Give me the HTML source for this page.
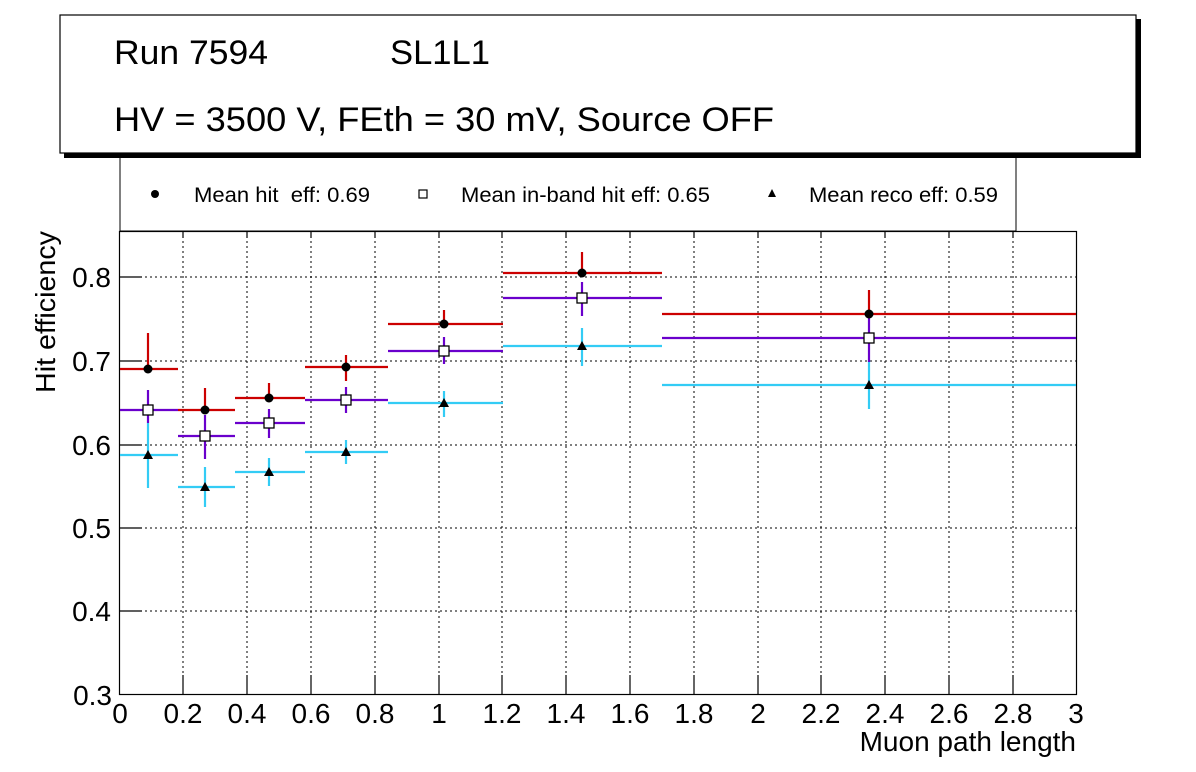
<!DOCTYPE html>
<html><head><meta charset="utf-8"><style>
html,body{margin:0;padding:0;background:#fff;}
svg{display:block;font-family:"Liberation Sans",sans-serif;}
</style></head><body>
<svg width="1196" height="772" viewBox="0 0 1196 772" xmlns="http://www.w3.org/2000/svg">
<rect width="1196" height="772" fill="#fff"/>
<rect x="120" y="150" width="896" height="81" fill="#fff" stroke="#000" stroke-width="1"/>
<rect x="64" y="19" width="1077" height="139" fill="#000"/>
<rect x="60" y="15" width="1076" height="138" fill="#fff" stroke="#000" stroke-width="1.2"/>
<text x="114" y="64" font-size="34" textLength="154" lengthAdjust="spacingAndGlyphs">Run 7594</text>
<text x="390" y="64" font-size="34" textLength="100" lengthAdjust="spacingAndGlyphs">SL1L1</text>
<text x="114" y="131" font-size="34" textLength="660" lengthAdjust="spacingAndGlyphs">HV = 3500 V, FEth = 30 mV, Source OFF</text>
<circle cx="155" cy="194" r="4" fill="#000"/>
<text x="194" y="202" font-size="21" textLength="176" lengthAdjust="spacingAndGlyphs" xml:space="preserve">Mean hit  eff: 0.69</text>
<rect x="419" y="190" width="8" height="8" fill="#fff" stroke="#000" stroke-width="1.2"/>
<text x="461" y="202" font-size="21" textLength="249" lengthAdjust="spacingAndGlyphs">Mean in-band hit eff: 0.65</text>
<polygon points="772,189 776,197 768,197" fill="#000"/>
<text x="809" y="202" font-size="21" textLength="189" lengthAdjust="spacingAndGlyphs">Mean reco eff: 0.59</text>
<g stroke="#000" stroke-width="1" stroke-dasharray="2,3">
<line x1="183" y1="231" x2="183" y2="694"/><line x1="247" y1="231" x2="247" y2="694"/>
<line x1="311" y1="231" x2="311" y2="694"/><line x1="375" y1="231" x2="375" y2="694"/>
<line x1="439" y1="231" x2="439" y2="694"/><line x1="502" y1="231" x2="502" y2="694"/>
<line x1="566" y1="231" x2="566" y2="694"/><line x1="630" y1="231" x2="630" y2="694"/>
<line x1="694" y1="231" x2="694" y2="694"/><line x1="758" y1="231" x2="758" y2="694"/>
<line x1="821" y1="231" x2="821" y2="694"/><line x1="885" y1="231" x2="885" y2="694"/>
<line x1="949" y1="231" x2="949" y2="694"/><line x1="1013" y1="231" x2="1013" y2="694"/>
<line x1="120" y1="611" x2="1076" y2="611"/><line x1="120" y1="528" x2="1076" y2="528"/>
<line x1="120" y1="445" x2="1076" y2="445"/><line x1="120" y1="361" x2="1076" y2="361"/>
<line x1="120" y1="277" x2="1076" y2="277"/>
</g>
<rect x="119.5" y="231.5" width="957" height="463" fill="none" stroke="#000" stroke-width="1.2"/>
<g stroke="#000" stroke-width="1.2">
<line x1="183" y1="694" x2="183" y2="675"/><line x1="247" y1="694" x2="247" y2="675"/>
<line x1="311" y1="694" x2="311" y2="675"/><line x1="375" y1="694" x2="375" y2="675"/>
<line x1="439" y1="694" x2="439" y2="675"/><line x1="502" y1="694" x2="502" y2="675"/>
<line x1="566" y1="694" x2="566" y2="675"/><line x1="630" y1="694" x2="630" y2="675"/>
<line x1="694" y1="694" x2="694" y2="675"/><line x1="758" y1="694" x2="758" y2="675"/>
<line x1="821" y1="694" x2="821" y2="675"/><line x1="885" y1="694" x2="885" y2="675"/>
<line x1="949" y1="694" x2="949" y2="675"/><line x1="1013" y1="694" x2="1013" y2="675"/>
<line x1="183" y1="231" x2="183" y2="238"/><line x1="247" y1="231" x2="247" y2="238"/>
<line x1="311" y1="231" x2="311" y2="238"/><line x1="375" y1="231" x2="375" y2="238"/>
<line x1="439" y1="231" x2="439" y2="238"/><line x1="502" y1="231" x2="502" y2="238"/>
<line x1="566" y1="231" x2="566" y2="238"/><line x1="630" y1="231" x2="630" y2="238"/>
<line x1="694" y1="231" x2="694" y2="238"/><line x1="758" y1="231" x2="758" y2="238"/>
<line x1="821" y1="231" x2="821" y2="238"/><line x1="885" y1="231" x2="885" y2="238"/>
<line x1="949" y1="231" x2="949" y2="238"/><line x1="1013" y1="231" x2="1013" y2="238"/>
<line x1="120" y1="611" x2="142" y2="611"/><line x1="120" y1="528" x2="142" y2="528"/>
<line x1="120" y1="445" x2="142" y2="445"/><line x1="120" y1="361" x2="142" y2="361"/>
<line x1="120" y1="277" x2="142" y2="277"/>
</g>
<g font-size="28" text-anchor="middle">
<text x="120" y="723">0</text><text x="183" y="723">0.2</text><text x="247" y="723">0.4</text>
<text x="311" y="723">0.6</text><text x="375" y="723">0.8</text><text x="439" y="723">1</text>
<text x="502" y="723">1.2</text><text x="566" y="723">1.4</text><text x="630" y="723">1.6</text>
<text x="694" y="723">1.8</text><text x="758" y="723">2</text><text x="821" y="723">2.2</text>
<text x="885" y="723">2.4</text><text x="949" y="723">2.6</text><text x="1013" y="723">2.8</text>
<text x="1076" y="723">3</text>
</g>
<g font-size="28" text-anchor="end">
<text x="112" y="705">0.3</text><text x="111" y="621">0.4</text><text x="111" y="538">0.5</text>
<text x="111" y="455">0.6</text><text x="111" y="371">0.7</text><text x="111" y="287">0.8</text>
</g>
<text x="1076" y="751" font-size="28" text-anchor="end">Muon path length</text>
<text transform="translate(55,393) rotate(-90)" font-size="28" textLength="162" lengthAdjust="spacingAndGlyphs">Hit efficiency</text>
<g stroke="#33ccf5" stroke-width="2.2">
<line x1="120" y1="455" x2="178" y2="455"/><line x1="148" y1="423" x2="148" y2="488"/>
<line x1="178" y1="487" x2="235" y2="487"/><line x1="205" y1="467" x2="205" y2="507"/>
<line x1="235" y1="472" x2="305" y2="472"/><line x1="269" y1="458" x2="269" y2="486"/>
<line x1="305" y1="452" x2="388" y2="452"/><line x1="346" y1="440" x2="346" y2="464"/>
<line x1="388" y1="403" x2="503" y2="403"/><line x1="444" y1="391" x2="444" y2="417"/>
<line x1="503" y1="346" x2="662" y2="346"/><line x1="582" y1="328" x2="582" y2="366"/>
<line x1="662" y1="385" x2="1076" y2="385"/><line x1="869" y1="360" x2="869" y2="409"/>
</g>
<g stroke="#6a00cc" stroke-width="2.2">
<line x1="120" y1="410" x2="178" y2="410"/><line x1="148" y1="390" x2="148" y2="423"/>
<line x1="178" y1="436" x2="235" y2="436"/><line x1="205" y1="415" x2="205" y2="459"/>
<line x1="235" y1="423" x2="305" y2="423"/><line x1="269" y1="409" x2="269" y2="438"/>
<line x1="305" y1="400" x2="388" y2="400"/><line x1="346" y1="387" x2="346" y2="413"/>
<line x1="388" y1="351" x2="503" y2="351"/><line x1="444" y1="337" x2="444" y2="364"/>
<line x1="503" y1="298" x2="662" y2="298"/><line x1="582" y1="282" x2="582" y2="316"/>
<line x1="662" y1="338" x2="1076" y2="338"/><line x1="869" y1="315" x2="869" y2="362"/>
</g>
<g stroke="#cc0000" stroke-width="2.2">
<line x1="120" y1="369" x2="178" y2="369"/><line x1="148" y1="333" x2="148" y2="372"/>
<line x1="178" y1="410" x2="235" y2="410"/><line x1="205" y1="388" x2="205" y2="413"/>
<line x1="235" y1="398" x2="305" y2="398"/><line x1="269" y1="383" x2="269" y2="401"/>
<line x1="305" y1="367" x2="388" y2="367"/><line x1="346" y1="355" x2="346" y2="381"/>
<line x1="388" y1="324" x2="503" y2="324"/><line x1="444" y1="310" x2="444" y2="327"/>
<line x1="503" y1="273" x2="662" y2="273"/><line x1="582" y1="252" x2="582" y2="276"/>
<line x1="662" y1="314" x2="1076" y2="314"/><line x1="869" y1="290" x2="869" y2="317"/>
</g>
<g fill="#000">
<circle cx="148" cy="369" r="4.5"/><circle cx="205" cy="410" r="4.5"/><circle cx="269" cy="398" r="4.5"/>
<circle cx="346" cy="367" r="4.5"/><circle cx="444" cy="324" r="4.5"/><circle cx="582" cy="273" r="4.5"/>
<circle cx="869" cy="314" r="4.5"/>
<polygon points="148,450 153,459 143,459"/><polygon points="205,482 210,491 200,491"/>
<polygon points="269,467 274,476 264,476"/><polygon points="346,447 351,456 341,456"/>
<polygon points="444,398 449,407 439,407"/><polygon points="582,341 587,350 577,350"/>
<polygon points="869,380 874,389 864,389"/>
</g>
<g fill="#fff" stroke="#000" stroke-width="1.3">
<rect x="143" y="405" width="10" height="10"/><rect x="200" y="431" width="10" height="10"/>
<rect x="264" y="418" width="10" height="10"/><rect x="341" y="395" width="10" height="10"/>
<rect x="439" y="346" width="10" height="10"/><rect x="577" y="293" width="10" height="10"/>
<rect x="864" y="333" width="10" height="10"/>
</g>
</svg>
</body></html>
